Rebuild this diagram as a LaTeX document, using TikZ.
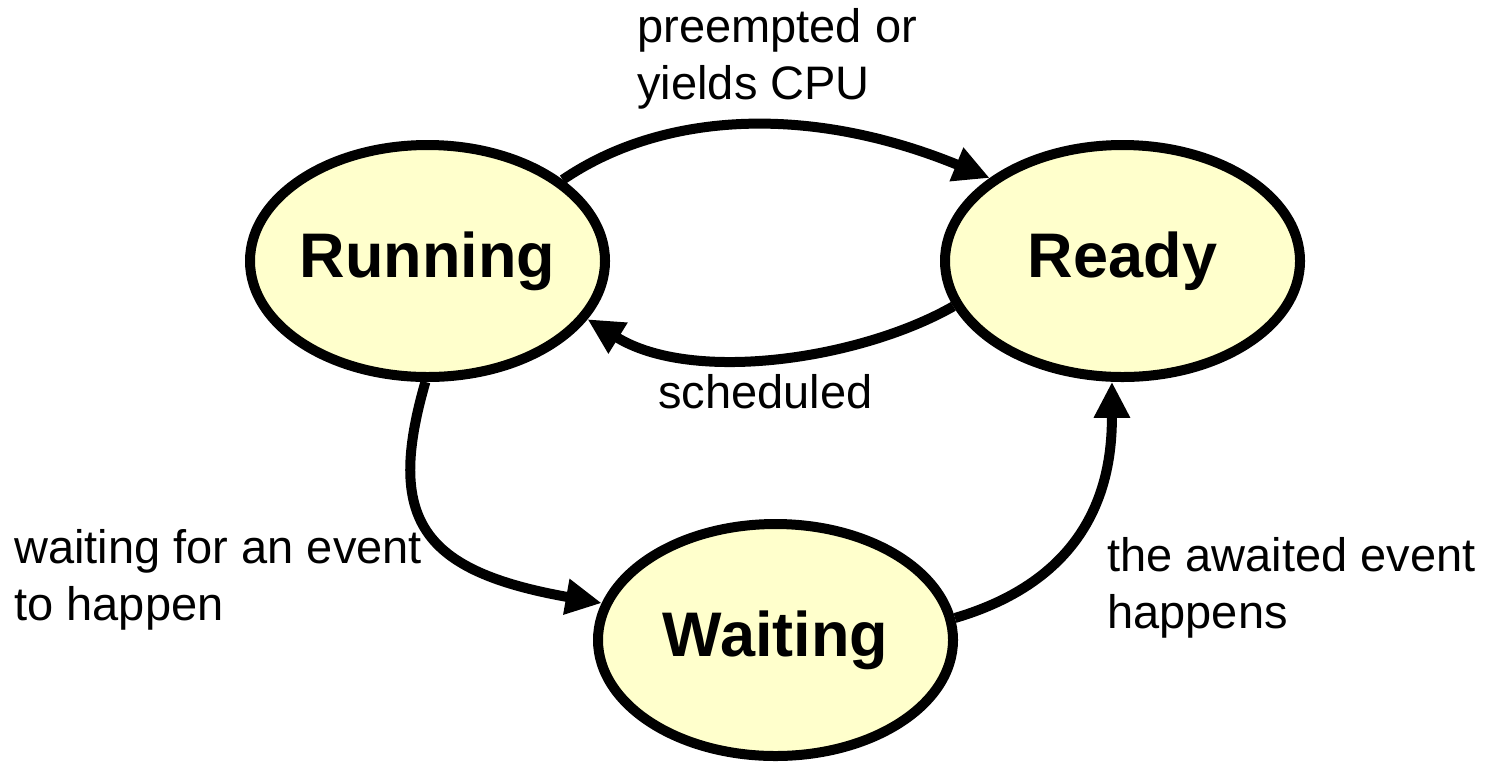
\documentclass[tikz,border=0pt]{standalone}
\usepackage{fontspec}
\setmainfont{Liberation Sans}
\usepackage{xcolor}
\usetikzlibrary{arrows.meta,shapes.geometric}
\definecolor{statefill}{RGB}{255,255,204}

\begin{document}
\begin{tikzpicture}[x=0.5pt, y=-0.5pt,
  st/.style={ellipse, draw, line width=5pt, fill=statefill, inner ysep=0pt, inner xsep=-3pt,
    minimum width=177.5pt, minimum height=116pt, font=\fontsize{31.5}{38}\selectfont\bfseries},
  note/.style={align=left, inner sep=0pt, font=\fontsize{23.5}{28.5}\selectfont},
  flow/.style={-{Triangle[length=18pt, width=17pt]}, line width=5pt}]
  \useasboundingbox (0,0) rectangle (1492,762);
  \node[st] (run) at (427.5,261) {Running};
  \node[st] (rdy) at (1122.5,261) {Ready};
  \node[st] (wait) at (775.5,640) {Waiting};
  \draw[flow] (run.31) .. controls +(98,-67) and +(-183,-75) .. (rdy.148);
  \draw[flow] (rdy.195) .. controls +(-93,53) and +(105,65) .. (run.-20);
  \draw[flow] (run.269) .. controls +(-40,138) and +(-180,-32) .. (wait.168);
  \draw[flow] (wait.7) .. controls +(146,-43) and +(0,87) .. (rdy.265);
  % multi-line notes sit on the baseline of their last line
  \node[note, anchor=base west] (pre) at (637,99) {preempted or\\yields CPU};
  \node[note, anchor=base west] (sch) at (658,408) {scheduled};
  \node[note, anchor=base west] (evw) at (14,620) {waiting for an event\\to happen};
  \node[note, anchor=base west] (evh) at (1107,628) {the awaited event\\happens};
\end{tikzpicture}
\end{document}
